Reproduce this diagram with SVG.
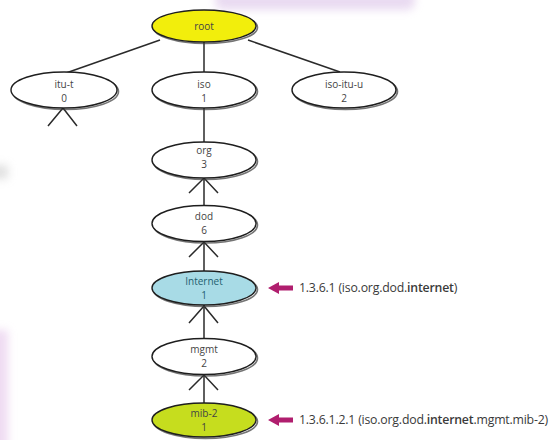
<svg xmlns="http://www.w3.org/2000/svg" width="549" height="440" viewBox="0 0 549 440">
  <defs>
    <filter id="soft" x="-50%" y="-50%" width="200%" height="200%">
      <feGaussianBlur stdDeviation="4"/>
    </filter>
    <style>
      .node { stroke: #1e1e1e; stroke-width: 1.4; }
      .shadow { fill: none; stroke: #3a3a3a; stroke-width: 1.6; opacity: 0.7; }
      .edge { stroke: #2a2a2a; stroke-width: 1.5; fill: none; }
      .lbl { font-family: "Open Sans", "Liberation Sans", sans-serif; font-size: 10px; fill: #444444; text-anchor: middle; }
      .oid { font-family: "Open Sans", "Liberation Sans", sans-serif; font-size: 12.3px; fill: #3a3a3a; letter-spacing: -0.2px; }
      .ptr { fill: #b01e6e; }
    </style>
  </defs>

  <rect width="549" height="440" fill="#ffffff"/>

  <!-- faint background tint -->
  <g filter="url(#soft)" opacity="0.55">
    <rect x="215" y="-10" width="200" height="20" rx="8" fill="#d8bde6"/>
    <rect x="-10" y="330" width="18" height="120" fill="#e2bfe8"/>
    <rect x="-10" y="165" width="18" height="14" fill="#c9c9c9"/>
  </g>

  <!-- connectors -->
  <g id="connectors">
    <line class="edge" x1="160" y1="40" x2="66" y2="73"/>
    <line class="edge" x1="204" y1="42" x2="204" y2="73"/>
    <line class="edge" x1="248" y1="40" x2="340" y2="72"/>
    <line class="edge" x1="204" y1="108" x2="204" y2="143"/>
    <polyline class="edge" points="48,126 63,108 77,126"/>
    <line class="edge" x1="204" y1="178" x2="204" y2="205"/>
    <polyline class="edge" points="189,193 204,178 218,193"/>
    <line class="edge" x1="204" y1="242" x2="204" y2="271"/>
    <polyline class="edge" points="189,257 204,242 218,257"/>
    <line class="edge" x1="204" y1="305" x2="204" y2="338"/>
    <polyline class="edge" points="189,323 204,306 218,323"/>
    <line class="edge" x1="204" y1="375" x2="204" y2="404"/>
    <polyline class="edge" points="189,390 204,375 218,390"/>
    <!-- pointers to OIDs -->
    <polygon class="ptr" points="268,288 279,282 279,285.5 293,285.5 293,290.5 279,290.5 279,294"/>
    <polygon class="ptr" points="268,420 279,414 279,417.5 293,417.5 293,422.5 279,422.5 279,426"/>
  </g>

  <g id="root">
    <ellipse class="shadow" cx="205.5" cy="27.5" rx="52" ry="16"/>
    <ellipse class="node" cx="204" cy="26" rx="52" ry="16" fill="#f2ee0c"/>
    <text class="lbl" x="204" y="30">root</text>
  </g>

  <g id="itu-t">
    <ellipse class="shadow" cx="65.5" cy="91.5" rx="53" ry="18"/>
    <ellipse class="node" cx="64" cy="90" rx="53" ry="18" fill="#ffffff"/>
    <text class="lbl" x="64" y="88">itu-t</text>
    <text class="lbl" x="64" y="102">0</text>
  </g>

  <g id="iso">
    <ellipse class="shadow" cx="205.5" cy="91.5" rx="52" ry="18"/>
    <ellipse class="node" cx="204" cy="90" rx="52" ry="18" fill="#ffffff"/>
    <text class="lbl" x="204" y="88">iso</text>
    <text class="lbl" x="204" y="102">1</text>
  </g>

  <g id="iso-itu-u">
    <ellipse class="shadow" cx="345.5" cy="91.5" rx="52" ry="18"/>
    <ellipse class="node" cx="344" cy="90" rx="52" ry="18" fill="#ffffff"/>
    <text class="lbl" x="344" y="88">iso-itu-u</text>
    <text class="lbl" x="344" y="102">2</text>
  </g>

  <g id="org">
    <ellipse class="shadow" cx="205.5" cy="161.5" rx="52" ry="18"/>
    <ellipse class="node" cx="204" cy="160" rx="52" ry="18" fill="#ffffff"/>
    <text class="lbl" x="204" y="154">org</text>
    <text class="lbl" x="204" y="168">3</text>
  </g>

  <g id="dod">
    <ellipse class="shadow" cx="205.5" cy="225" rx="52" ry="18"/>
    <ellipse class="node" cx="204" cy="223.5" rx="52" ry="18" fill="#ffffff"/>
    <text class="lbl" x="204" y="220">dod</text>
    <text class="lbl" x="204" y="234">6</text>
  </g>

  <g id="internet">
    <ellipse class="shadow" cx="205.5" cy="289.5" rx="52" ry="17"/>
    <ellipse class="node" cx="204" cy="288" rx="52" ry="17" fill="#a8dbe6"/>
    <text class="lbl" x="204" y="285" style="fill:#1f5f70">Internet</text>
    <text class="lbl" x="204" y="299" style="fill:#1f5f70">1</text>
  </g>

  <g id="mgmt">
    <ellipse class="shadow" cx="205.5" cy="358" rx="52" ry="18"/>
    <ellipse class="node" cx="204" cy="356.5" rx="52" ry="18" fill="#ffffff"/>
    <text class="lbl" x="204" y="353">mgmt</text>
    <text class="lbl" x="204" y="367">2</text>
  </g>

  <g id="mib-2">
    <ellipse class="shadow" cx="205.5" cy="421.5" rx="52" ry="17"/>
    <ellipse class="node" cx="204" cy="420" rx="52" ry="17" fill="#c6dd1e"/>
    <text class="lbl" x="204" y="417">mib-2</text>
    <text class="lbl" x="204" y="431">1</text>
  </g>

  <g id="oid-labels">
    <text class="oid" x="299" y="292">1.3.6.1 (iso.org.dod.<tspan font-weight="600">internet</tspan>)</text>
    <text class="oid" x="299" y="424">1.3.6.1.2.1 (iso.org.dod.<tspan font-weight="600">internet</tspan>.mgmt.mib-2)</text>
  </g>
</svg>
